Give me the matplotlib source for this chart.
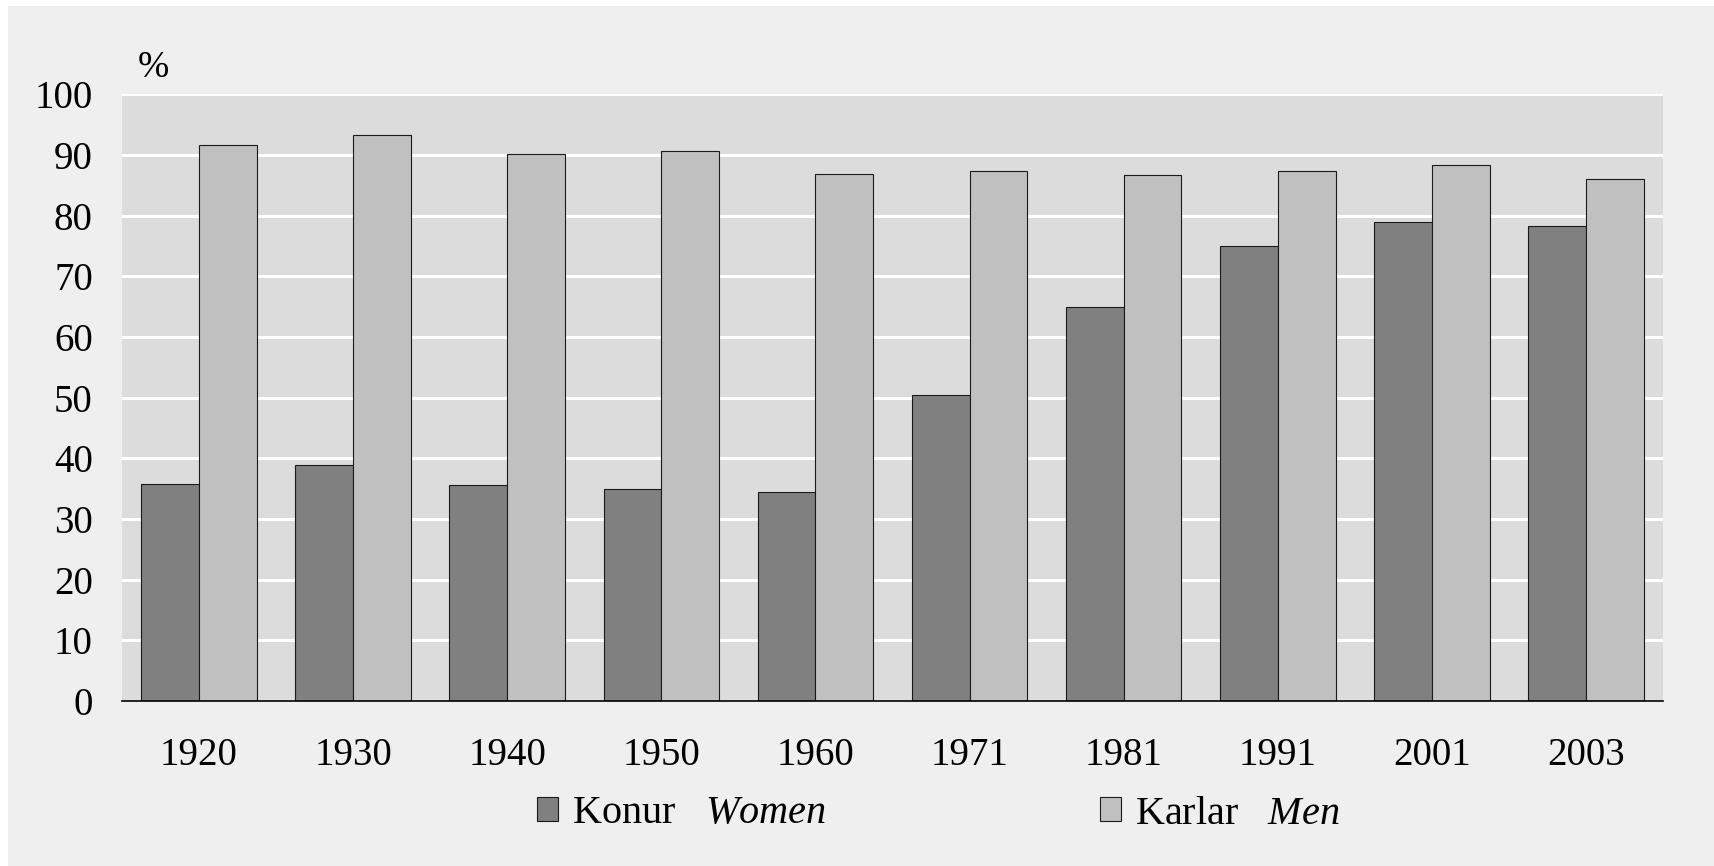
import matplotlib
matplotlib.use("Agg")
import matplotlib.pyplot as plt
import numpy as np
from matplotlib.patches import Rectangle

plt.rcParams['font.family'] = ['Liberation Serif', 'DejaVu Serif']
plt.rcParams['mathtext.fontset'] = 'custom'
plt.rcParams['mathtext.rm'] = 'Liberation Serif'
plt.rcParams['mathtext.it'] = 'Liberation Serif:italic'

# Census years and share (%) for each group
years = ["1920", "1930", "1940", "1950", "1960", "1971", "1981", "1991", "2001", "2003"]
women = [35.7, 38.9, 35.6, 35.0, 34.5, 50.5, 65.0, 75.0, 78.9, 78.3]
men = [91.7, 93.3, 90.1, 90.6, 86.8, 87.3, 86.7, 87.3, 88.4, 86.1]
yticks = list(range(0, 101, 10))

fig = plt.figure(figsize=(17.15, 8.66), dpi=100)
fig.patch.set_facecolor("white")
# light grey panel behind the whole chart
fig.patches.append(Rectangle((8 / 1715, 0), 1, 1 - 6 / 866, transform=fig.transFigure,
                             facecolor="#efefef", edgecolor="none", zorder=-10))

ax = fig.add_axes([122 / 1715, 1 - 701 / 866, 1541 / 1715, 606.7 / 866])
ax.set_facecolor("#dcdcdc")

x = np.arange(len(years))
w = 0.375
ax.bar(x - w / 2, women, w, color="#808080", edgecolor="#1a1a1a", linewidth=0.8,
       label="Konur   $\\mathit{Women}$", zorder=3)
ax.bar(x + w / 2, men, w, color="#c0c0c0", edgecolor="#1a1a1a", linewidth=0.8,
       label="Karlar   $\\mathit{Men}$", zorder=3)

ax.set_xlim(-0.5, len(years) - 0.5)
ax.set_ylim(0, 100)
ax.set_yticks(yticks)
ax.set_xticks(x)
ax.set_xticklabels(years)
ax.yaxis.grid(True, color="white", linewidth=2.2, zorder=1)
ax.set_axisbelow(True)
ax.tick_params(axis="y", length=0, pad=21, labelsize=28)
ax.tick_params(axis="x", length=0, pad=26, labelsize=28)

for s in ["top", "left", "right"]:
    ax.spines[s].set_visible(False)
ax.spines["bottom"].set_color("black")
ax.spines["bottom"].set_linewidth(1.2)
ax.spines["bottom"].set_zorder(4)

fig.text(153 / 1715, 1 - 68 / 866, "%", fontsize=27, ha="center", va="center")

fig.legend(loc="center", bbox_to_anchor=(938 / 1715, 1 - 814 / 866), ncol=2,
           frameon=False, fontsize=29, handlelength=0.52, handleheight=0.52,
           handletextpad=0.35, columnspacing=6.8, borderpad=0)

fig.savefig("out.png", dpi=100, facecolor=fig.get_facecolor())
